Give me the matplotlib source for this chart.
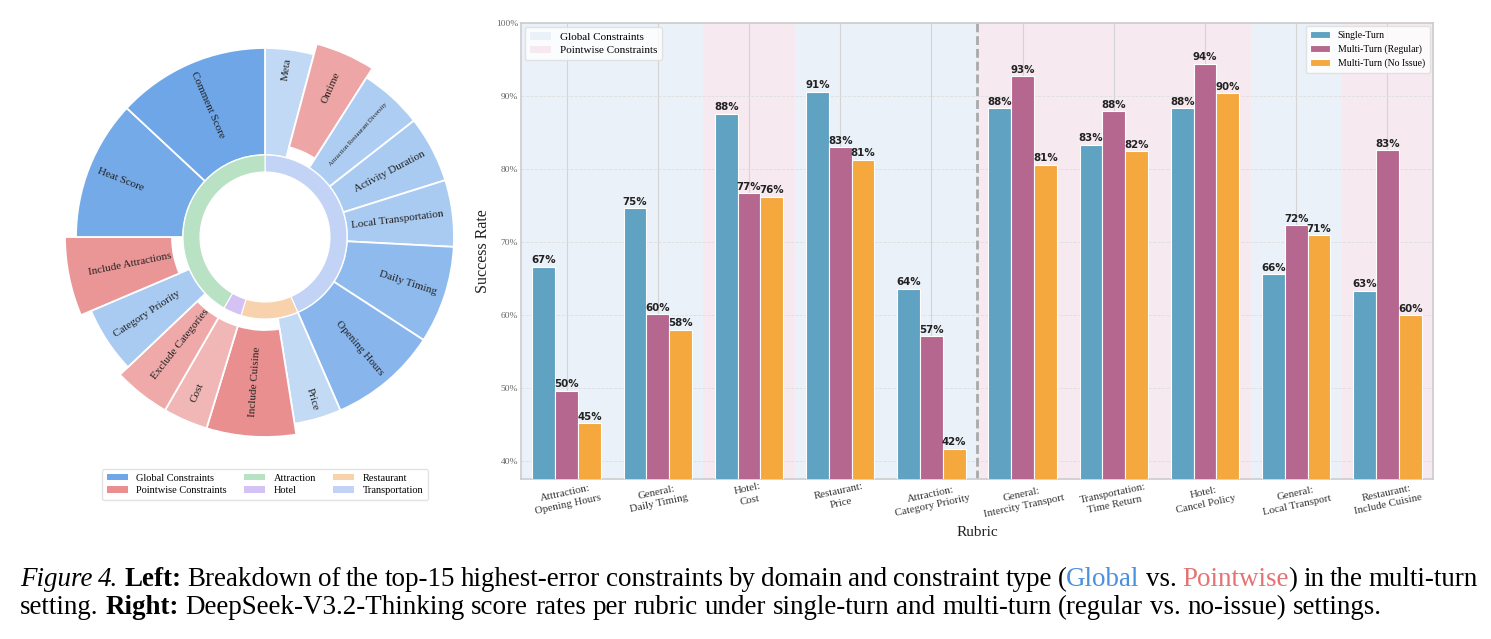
import numpy as np
import matplotlib
matplotlib.use("Agg")
import matplotlib.pyplot as plt
from matplotlib.patches import Wedge, Patch
from matplotlib.colors import to_rgb

W, H, DPI = 1491, 639, 100
SERIF = "Liberation Serif"

# ---- left panel: top-15 highest-error constraints (clockwise from top) ----
constraints = ["Meta", "Ontime", "Attraction Restaurant Diversity", "Activity Duration",
               "Local Transportation", "Daily Timing", "Opening Hours", "Price",
               "Include Cuisine", "Cost", "Exclude Categories", "Category Priority",
               "Include Attractions", "Heat Score", "Comment Score"]
error_counts = [30, 35, 39, 41, 41, 60, 67, 29, 52, 26, 33, 41, 46, 86, 94]
constraint_types = ["Global", "Pointwise", "Global", "Global", "Global", "Global", "Global",
                    "Global", "Pointwise", "Pointwise", "Pointwise", "Global", "Pointwise",
                    "Global", "Global"]
constraint_domains = ["Transportation"] * 7 + ["Restaurant", "Restaurant", "Hotel"] + ["Attraction"] * 5
domain_names = ["Attraction", "Hotel", "Restaurant", "Transportation"]

# ---- right panel: success rate per rubric ----
rubrics = ["Atttraction:\nOpening Hours", "General:\nDaily Timing", "Hotel:\nCost",
           "Restaurant:\nPrice", "Attraction:\nCategory Priority", "General:\nIntercity Transport",
           "Transportation:\nTime Return", "Hotel:\nCancel Policy", "General:\nLocal Transport",
           "Restaurant:\nInclude Cuisine"]
rubric_types = ["Global", "Global", "Pointwise", "Global", "Global",
                "Pointwise", "Pointwise", "Pointwise", "Global", "Pointwise"]
single_turn = [66.6, 74.6, 87.6, 90.6, 63.6, 88.3, 83.3, 88.3, 65.6, 63.3]
multi_regular = [49.6, 60.1, 76.7, 83.0, 57.1, 92.7, 87.9, 94.4, 72.3, 82.6]
multi_no_issue = [45.2, 58.0, 76.2, 81.3, 41.7, 80.6, 82.4, 90.4, 70.9, 60.0]
series_names = ["Single-Turn", "Multi-Turn (Regular)", "Multi-Turn (No Issue)"]

type_base = {"Global": "#4a90e2", "Pointwise": "#e57373"}
type_alpha = {"Global": (0.33, 0.80), "Pointwise": (0.52, 0.80)}
domain_colors = {"Attraction": "#b9e2c5", "Hotel": "#d3c2f3",
                 "Restaurant": "#f8d2ad", "Transportation": "#c3d3f6"}
bar_colors = ["#5fa2c1", "#b5678f", "#f4a83d"]
bg_colors = {"Global": "#eaf1f8", "Pointwise": "#f7e9f0"}


def tint(color, a):
    c = np.array(to_rgb(color))
    return tuple(1 - a * (1 - c))


fig = plt.figure(figsize=(W / DPI, H / DPI), dpi=DPI)
renderer = fig.canvas.get_renderer()

# ================= donut =================
axd = fig.add_axes([45 / W, 1 - 457 / H, 440 / W, 440 / H])
axd.set_xlim(-220, 220)
axd.set_ylim(-220, 220)
axd.set_aspect("equal")
axd.axis("off")

HOLE, RING = 65, 82
G_IN, G_OUT = 82, 189
P_IN, P_OUT = 93, 200
LABEL_R = 180

counts = np.array(error_counts, dtype=float)
spans = 360 * counts / counts.sum()
starts = 90 - np.concatenate([[0], np.cumsum(spans)[:-1]])

alphas = []
for v, t in zip(counts, constraint_types):
    vals = counts[[tt == t for tt in constraint_types]]
    lo, hi = type_alpha[t]
    f = np.log(v / vals.min()) / np.log(vals.max() / vals.min())
    alphas.append(lo + (hi - lo) * f)

for name, t, th2, sp, a in zip(constraints, constraint_types, starts, spans, alphas):
    th1 = th2 - sp
    r_in, r_out = (G_IN, G_OUT) if t == "Global" else (P_IN, P_OUT)
    axd.add_patch(Wedge((0, 0), r_out, th1, th2, width=r_out - r_in,
                        facecolor=tint(type_base[t], a), edgecolor="white", lw=1.3))
    mid = (th1 + th2) / 2
    m = mid % 360
    if m > 270:
        m -= 360
    if -90 < m <= 90:
        rot, ha = m, "right"
    else:
        rot, ha = m - 180, "left"
    x = LABEL_R * np.cos(np.radians(mid))
    y = LABEL_R * np.sin(np.radians(mid))
    txt = axd.text(x, y, name, rotation=rot, ha=ha, va="center", rotation_mode="anchor",
                   fontsize=8.0, family=SERIF, color="#222222")
    bb = txt.get_window_extent(renderer=renderer)
    length = np.hypot(bb.width, bb.height)
    if length > 100:
        txt.set_fontsize(8.0 * 88 / length)

# inner ring by domain (consecutive runs)
i = 0
while i < len(constraints):
    d = constraint_domains[i]
    j = i
    while j < len(constraints) and constraint_domains[j] == d:
        j += 1
    th2 = starts[i]
    th1 = starts[j - 1] - spans[j - 1]
    axd.add_patch(Wedge((0, 0), RING, th1, th2, width=RING - HOLE,
                        facecolor=domain_colors[d], edgecolor="white", lw=0.8))
    i = j

leg_handles = [Patch(facecolor=tint(type_base["Global"], 0.8), label="Global Constraints"),
               Patch(facecolor=tint(type_base["Pointwise"], 0.8), label="Pointwise Constraints")]
leg_handles += [Patch(facecolor=domain_colors[d], label=d) for d in domain_names]
fig.legend(handles=leg_handles, loc="center", bbox_to_anchor=(265 / W, 1 - 484.5 / H), ncol=3,
           prop={"family": SERIF, "size": 7.5}, frameon=True, edgecolor="#dddddd",
           handlelength=2.0, handleheight=0.6, labelspacing=0.35, columnspacing=1.7,
           borderpad=0.45, fancybox=True)

# ================= bars =================
ax = fig.add_axes([521 / W, 1 - 479 / H, 912 / W, 456 / H])
x = np.arange(len(rubrics))
for k, t in enumerate(rubric_types):
    ax.axvspan(k - 0.5, k + 0.5, color=bg_colors[t], lw=0, zorder=0)

bw = 0.25
for s, (vals, name, col) in enumerate(zip([single_turn, multi_regular, multi_no_issue],
                                          series_names, bar_colors)):
    bars = ax.bar(x + (s - 1) * bw, vals, bw, color=col, edgecolor="white", lw=0.8,
                  label=name, zorder=3)
    for b, v in zip(bars, vals):
        ax.text(b.get_x() + b.get_width() / 2, v + 0.2, f"{v:.0f}%", ha="center", va="bottom",
                fontsize=7.4, fontweight="bold", color="#222222", zorder=4)

ax.axvline(4.5, color="#aaaaaa", ls=(0, (3.2, 1.4)), lw=2.0, zorder=2)
ax.set_xlim(-0.5, len(rubrics) - 0.5)
allv = single_turn + multi_regular + multi_no_issue
ax.set_ylim(min(allv) * 0.9, 100)
ax.set_yticks(np.arange(40, 101, 10))
ax.set_yticklabels([f"{v}%" for v in range(40, 101, 10)], family=SERIF, fontsize=6.8, color="#666666")
ax.set_xticks(x)
ax.set_xticklabels(rubrics, rotation=12, ha="center", family=SERIF, fontsize=7.8,
                   color="#333333", linespacing=1.4)
ax.tick_params(length=0, pad=2)
ax.set_axisbelow(True)
ax.grid(axis="x", color="#d4d4d4", lw=0.8)
ax.grid(axis="y", color="#dedede", lw=0.6, ls="--")
for sp in ax.spines.values():
    sp.set_color("#cccccc")
    sp.set_linewidth(1.2)
ax.set_ylabel("Success Rate", family=SERIF, fontsize=11.5, color="#222222")
ax.yaxis.set_label_coords(-0.033, 0.5)
ax.set_xlabel("Rubric", family=SERIF, fontsize=11, color="#222222")
ax.xaxis.set_label_coords(0.5, -0.102)

leg1 = ax.legend(loc="upper right", prop={"family": SERIF, "size": 7.0}, frameon=True,
                 edgecolor="#dddddd", handlelength=2.0, handleheight=0.7, labelspacing=0.45,
                 borderpad=0.5, borderaxespad=0.35, fancybox=True)
ax.add_artist(leg1)
ax.legend(handles=[Patch(facecolor=bg_colors["Global"], label="Global Constraints"),
                   Patch(facecolor=bg_colors["Pointwise"], label="Pointwise Constraints")],
          loc="upper left", prop={"family": SERIF, "size": 8}, frameon=True, edgecolor="#dddddd",
          handlelength=1.9, handleheight=0.7, labelspacing=0.35, borderpad=0.45,
          borderaxespad=0.35, fancybox=True)

# ================= caption =================
line1 = [("Figure 4.", {"style": "italic"}, False), ("Left:", {"weight": "bold"}, True),
         ("Breakdown of the top-15 highest-error constraints by domain and constraint type (", {}, True),
         ("Global", {"color": "#4a90e2"}, False), ("vs.", {}, True),
         ("Pointwise", {"color": "#e57373"}, True), (") in the multi-turn", {}, False)]
line2 = [("setting.", {}, False), ("Right:", {"weight": "bold"}, True),
         ("DeepSeek-V3.2-Thinking score rates per rubric under single-turn and multi-turn "
          "(regular vs. no-issue) settings.", {}, True)]


def make_text(s, size, kw, xpx=0, ypx=0):
    return fig.text(xpx / W, 1 - ypx / H, s, fontsize=size, family=SERIF, va="baseline",
                    color=kw.get("color", "black"), fontstyle=kw.get("style", "normal"),
                    fontweight=kw.get("weight", "normal"))


def words_of(runs):
    out = []
    for s, kw, gap in runs:
        for n, wd in enumerate(s.split(" ")):
            out.append((wd, kw, gap if n == 0 else True))
    return out


def measure(words, size):
    widths = []
    for wd, kw, _ in words:
        t = make_text(wd, size, kw)
        widths.append(t.get_window_extent(renderer=renderer).width)
        t.remove()
    a = make_text("x x", size, {})
    b = make_text("xx", size, {})
    space = a.get_window_extent(renderer=renderer).width - b.get_window_extent(renderer=renderer).width
    a.remove()
    b.remove()
    return widths, space


def draw_line(runs, x0, ybase, size, target=None):
    words = words_of(runs)
    widths, space = measure(words, size)
    ngaps = sum(1 for _, _, g in words if g)
    if target is not None:
        space = (target - sum(widths)) / ngaps
    xpos = x0
    for (wd, kw, gap), w in zip(words, widths):
        if gap:
            xpos += space
        make_text(wd, size, kw, xpos, ybase)
        xpos += w


w2, sp2 = measure(words_of(line2), 16)
nat2 = sum(w2) + sp2 * sum(1 for _, _, g in words_of(line2) if g)
size = 16 * 1365 / nat2
draw_line(line1, 20, 586, size, target=1458)
draw_line(line2, 20, 614, size)

fig.savefig("out.png", dpi=DPI)
